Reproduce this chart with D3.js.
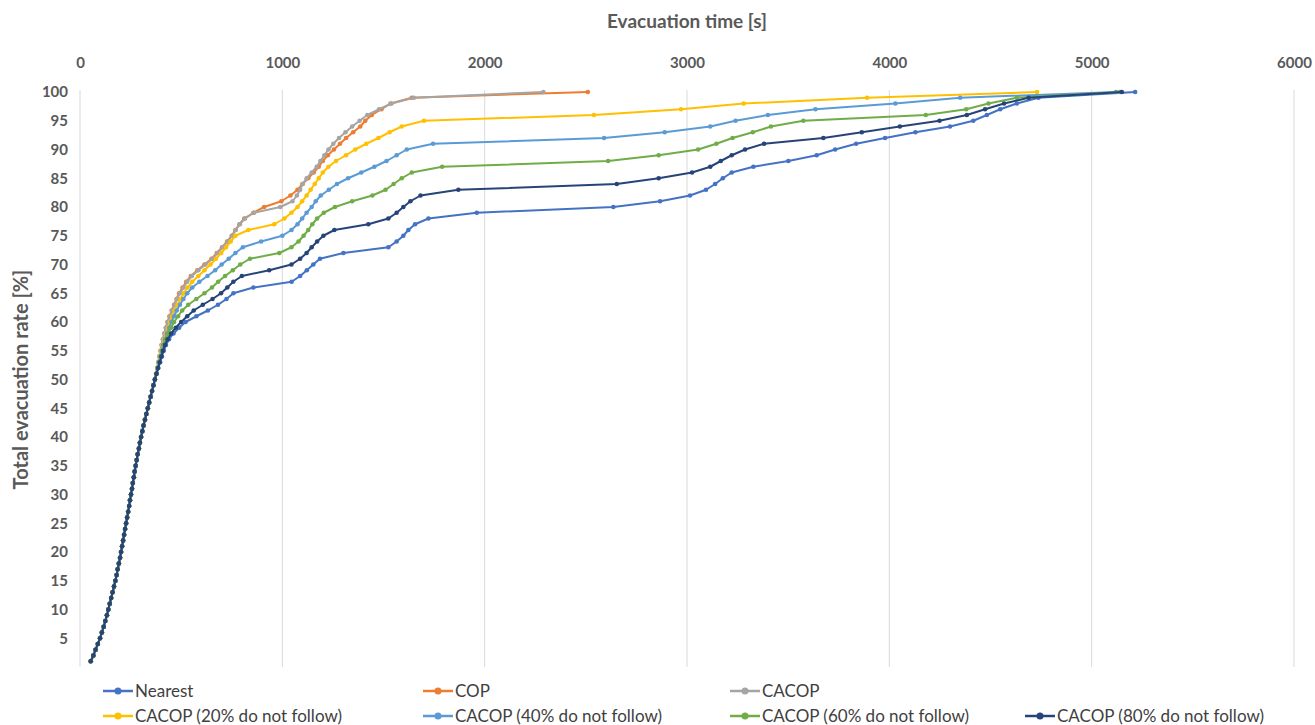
<!DOCTYPE html>
<html>
<head>
<meta charset="utf-8">
<script src="https://cdn.jsdelivr.net/npm/d3@7"></script>
<style>
  body { margin: 0; background: #fff; }
  svg { display: block; font-family: Lato, "Open Sans", sans-serif; }
</style>
</head>
<body>
<div id="chart"></div>
<script>
// evacuation rate levels (%) - one marker per level
const rateLevels = [1, 2, 3, 4, 5, 6, 7, 8, 9, 10, 11, 12, 13, 14, 15, 16, 17, 18, 19, 20,
  21, 22, 23, 24, 25, 26, 27, 28, 29, 30, 31, 32, 33, 34, 35, 36, 37, 38, 39, 40,
  41, 42, 43, 44, 45, 46, 47, 48, 49, 50, 51, 52, 53, 54, 55, 56, 57, 58, 59, 60,
  61, 62, 63, 64, 65, 66, 67, 68, 69, 70, 71, 72, 73, 74, 75, 76, 77, 78, 79, 80,
  81, 82, 83, 84, 85, 86, 87, 88, 89, 90, 91, 92, 93, 94, 95, 96, 97, 98, 99, 100];

// time (s) to reach 1%..50% - all series overlap here
const sharedRampTimes = [53, 66, 77, 88, 99, 108, 117, 125, 133, 140, 147, 154, 161, 168, 175,
  181, 186, 192, 198, 203, 208, 213, 218, 223, 228, 233, 238, 243, 247, 252, 257, 261, 266,
  270, 275, 280, 285, 291, 296, 302, 308, 314, 321, 328, 335, 342, 349, 356, 363, 370];

// time (s) to reach 51%..100% for each series
const nearestTail = [379, 387, 396, 405, 414, 425, 440, 462, 490, 522, 575, 632, 682, 724, 758,
  857, 1046, 1088, 1121, 1153, 1186, 1302, 1524, 1565, 1598, 1623, 1656, 1722, 1961, 2636,
  2867, 3015, 3094, 3139, 3177, 3221, 3328, 3501, 3641, 3732, 3836, 3979, 4129, 4300, 4415,
  4482, 4548, 4630, 4737, 5215];
const copTail = [376, 381, 387, 392, 398, 403, 410, 417, 424, 432, 442, 453, 465, 477, 490,
  507, 525, 548, 580, 615, 650, 676, 702, 727, 750, 768, 788, 812, 857, 910, 995, 1040, 1075,
  1100, 1128, 1155, 1180, 1200, 1225, 1255, 1285, 1315, 1350, 1385, 1410, 1442, 1490, 1535,
  1640, 2510];
const cacopTail = [376, 381, 387, 392, 398, 404, 410, 417, 425, 434, 445, 456, 468, 480, 494,
  512, 530, 553, 585, 620, 655, 680, 705, 730, 752, 770, 790, 815, 860, 990, 1050, 1072, 1088,
  1100, 1120, 1145, 1170, 1188, 1208, 1228, 1252, 1280, 1312, 1345, 1382, 1420, 1478, 1540,
  1650, 2290];
const cacop20Tail = [377, 383, 389, 395, 401, 408, 416, 425, 435, 445, 456, 468, 482, 497, 513,
  532, 555, 585, 615, 645, 672, 698, 722, 745, 768, 832, 960, 1010, 1045, 1075, 1098, 1120,
  1140, 1160, 1180, 1200, 1228, 1265, 1315, 1360, 1415, 1475, 1530, 1590, 1700, 2540, 2970,
  3280, 3890, 4730];
const cacop40Tail = [377, 384, 390, 397, 404, 411, 420, 430, 441, 452, 465, 478, 494, 511, 530,
  555, 590, 630, 668, 700, 735, 768, 805, 895, 1000, 1045, 1075, 1098, 1120, 1145, 1165, 1190,
  1230, 1270, 1325, 1390, 1455, 1515, 1565, 1615, 1745, 2590, 2890, 3115, 3240, 3400, 3635,
  4030, 4350, 5120];
const cacop60Tail = [378, 385, 392, 399, 406, 414, 424, 436, 450, 465, 485, 505, 535, 575, 615,
  652, 683, 717, 755, 792, 840, 985, 1045, 1080, 1105, 1128, 1148, 1172, 1205, 1260, 1345,
  1445, 1510, 1550, 1590, 1640, 1790, 2610, 2860, 3055, 3145, 3225, 3325, 3415, 3575, 4180,
  4380, 4490, 4630, 5140];
const cacop80Tail = [378, 386, 394, 402, 410, 420, 433, 450, 473, 500, 530, 562, 607, 655, 697,
  728, 758, 800, 935, 1045, 1088, 1120, 1145, 1172, 1203, 1257, 1425, 1524, 1565, 1598, 1633,
  1683, 1870, 2653, 2860, 3025, 3115, 3167, 3221, 3287, 3381, 3674, 3864, 4052, 4248, 4383,
  4473, 4567, 4688, 5149];

const seriesNames = ["Nearest", "COP", "CACOP", "CACOP (20% do not follow)",
  "CACOP (40% do not follow)", "CACOP (60% do not follow)", "CACOP (80% do not follow)"];
const seriesColors = ["#4472C4", "#ED7D31", "#A5A5A5", "#FFC000", "#5B9BD5", "#70AD47", "#264478"];
const seriesTails = [nearestTail, copTail, cacopTail, cacop20Tail, cacop40Tail, cacop60Tail, cacop80Tail];

const xTicks = [0, 1000, 2000, 3000, 4000, 5000, 6000];
const yTicks = [5, 10, 15, 20, 25, 30, 35, 40, 45, 50, 55, 60, 65, 70, 75, 80, 85, 90, 95, 100];

const width = 1315;
const height = 725;
const textColor = "#595959";

const svg = d3.select("#chart")
  .append("svg")
  .attr("width", width)
  .attr("height", height);

// Scales
const x = d3.scaleLinear().domain([0, 6000]).range([80, 1294]);
const y = d3.scaleLinear().domain([0, 100]).range([667, 92]);

// Vertical gridlines
svg.append("g")
  .selectAll("line")
  .data(xTicks)
  .enter()
  .append("line")
  .attr("x1", d => x(d))
  .attr("x2", d => x(d))
  .attr("y1", y(100) - 2)
  .attr("y2", y(0))
  .attr("stroke", "#d9d9d9")
  .attr("stroke-width", 1);

// Axes (x on top)
const xAxis = svg.append("g")
  .attr("transform", "translate(0,70)")
  .call(d3.axisTop(x).tickValues(xTicks).tickSize(0).tickPadding(2).tickFormat(d3.format("d")));
const yAxis = svg.append("g")
  .attr("transform", "translate(80,0)")
  .call(d3.axisLeft(y).tickValues(yTicks).tickSize(0).tickPadding(12));

[xAxis, yAxis].forEach(axis => {
  axis.select(".domain").remove();
  axis.selectAll("text")
    .attr("fill", textColor)
    .style("font-size", "15px")
    .style("font-weight", "700")
    .style("font-family", "Lato, sans-serif");
});

// Axis titles
svg.append("text")
  .attr("x", (x(0) + x(6000)) / 2)
  .attr("y", 28)
  .attr("text-anchor", "middle")
  .attr("fill", textColor)
  .style("font-size", "19px")
  .style("font-weight", "700")
  .text("Evacuation time [s]");

svg.append("text")
  .attr("transform", "translate(28," + (y(0) + y(100)) / 2 + ") rotate(-90)")
  .attr("text-anchor", "middle")
  .attr("fill", textColor)
  .style("font-size", "20px")
  .style("font-weight", "700")
  .text("Total evacuation rate [%]");

// Build series
const series = seriesNames.map((name, i) => {
  const times = sharedRampTimes.concat(seriesTails[i]);
  return {
    name: name,
    color: seriesColors[i],
    points: times.map((t, j) => ({ time: t, rate: rateLevels[j] }))
  };
});

const line = d3.line()
  .x(d => x(d.time))
  .y(d => y(d.rate));

const seriesGroups = svg.append("g")
  .selectAll("g")
  .data(series)
  .enter()
  .append("g");

seriesGroups.append("path")
  .attr("d", d => line(d.points))
  .attr("fill", "none")
  .attr("stroke", d => d.color)
  .attr("stroke-width", 2)
  .attr("stroke-linejoin", "round");

seriesGroups.selectAll("circle")
  .data(d => d.points.map(p => ({ ...p, color: d.color })))
  .enter()
  .append("circle")
  .attr("cx", d => x(d.time))
  .attr("cy", d => y(d.rate))
  .attr("r", 2.3)
  .attr("fill", d => d.color);

// Legend: three items on the first row, four on the second
const legendCols = [103, 423, 730, 1025];
const legendRows = [691, 716];
const legendSlots = [[0, 0], [1, 0], [2, 0], [0, 1], [1, 1], [2, 1], [3, 1]];

const legendItems = svg.append("g")
  .selectAll("g")
  .data(series)
  .enter()
  .append("g")
  .attr("transform", (d, i) =>
    "translate(" + legendCols[legendSlots[i][0]] + "," + legendRows[legendSlots[i][1]] + ")");

legendItems.append("line")
  .attr("x1", 0)
  .attr("x2", 30)
  .attr("stroke", d => d.color)
  .attr("stroke-width", 2.5);

legendItems.append("circle")
  .attr("cx", 15)
  .attr("r", 3.5)
  .attr("fill", d => d.color);

legendItems.append("text")
  .attr("x", 32)
  .attr("dy", "0.35em")
  .attr("fill", "#404040")
  .style("font-size", "17px")
  .text(d => d.name);
</script>
</body>
</html>
